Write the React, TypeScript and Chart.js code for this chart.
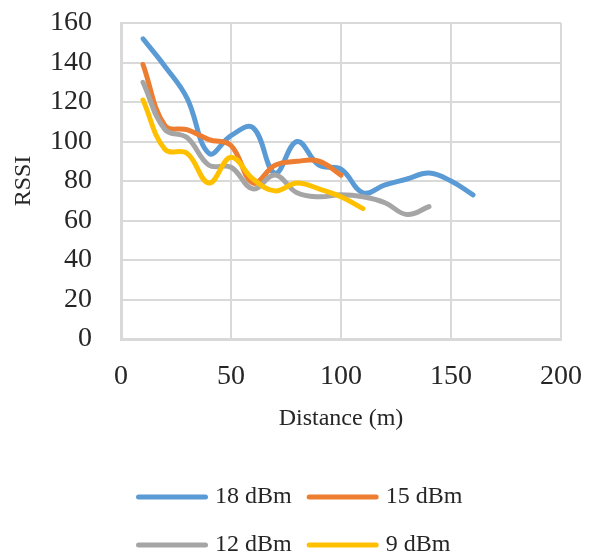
import { useEffect, useRef } from "react";
import { Chart, registerables } from "chart.js";

Chart.register(...registerables);

const distances18 = [10, 20, 30, 40, 50, 60, 70, 80, 90, 100, 110, 120, 130, 140, 150, 160];
const rssi18 = [152, 138, 122, 94, 103, 107, 84, 100, 88, 86, 74, 78, 81, 84, 80, 73];
const distances15 = [10, 20, 30, 40, 50, 60, 70, 80, 90, 100];
const rssi15 = [139, 108, 106, 101, 98, 79, 88, 90, 90, 83];
const distances12 = [10, 20, 30, 40, 50, 60, 70, 80, 90, 100, 110, 120, 130, 140];
const rssi12 = [130, 106, 102, 88, 87, 76, 83, 74, 72, 73, 72, 69, 63, 67];
const distances9 = [10, 20, 30, 40, 50, 60, 70, 80, 90, 100, 110];
const rssi9 = [121, 96, 94, 79, 92, 81, 75, 79, 76, 72, 66];

const seriesLabels = ["18 dBm", "15 dBm", "12 dBm", "9 dBm"];
const seriesColors = ["#5B9BD5", "#ED7D31", "#A5A5A5", "#FFC000"];
const seriesX = [distances18, distances15, distances12, distances9];
const seriesY = [rssi18, rssi15, rssi12, rssi9];

const xTitle = "Distance (m)";
const yTitle = "RSSI";

const FONT = '"Liberation Serif", "Times New Roman", serif';
const TEXT = "#262626";
const GRID = "#d9d9d9";

const legendLines = {
  id: "legendLines",
  afterDraw(chart: any) {
    const legend = chart.legend;
    if (!legend || !legend.legendItems) return;
    const ctx = chart.ctx;
    ctx.save();
    legend.legendItems.forEach((item: any, i: number) => {
      const hb = legend.legendHitBoxes[i];
      if (!hb) return;
      const y = hb.top + hb.height / 2;
      ctx.strokeStyle = seriesColors[item.datasetIndex];
      ctx.lineWidth = 5;
      ctx.lineCap = "round";
      ctx.beginPath();
      ctx.moveTo(hb.left + 5.5, y);
      ctx.lineTo(hb.left + 72.5, y);
      ctx.stroke();
    });
    ctx.restore();
  },
};

export default function App() {
  const ref = useRef<HTMLCanvasElement | null>(null);

  useEffect(() => {
    if (!ref.current) return;
    const datasets = seriesLabels.map((label, i) => ({
      label,
      data: seriesX[i].map((x, j) => ({ x, y: seriesY[i][j] })),
      borderColor: seriesColors[i],
      backgroundColor: seriesColors[i],
      borderWidth: 5,
      tension: 0.4,
      pointRadius: 0,
      fill: false,
      borderCapStyle: "round" as const,
      borderJoinStyle: "round" as const,
      order: seriesLabels.length - i,
    }));

    const chart = new Chart(ref.current, {
      type: "line",
      data: { datasets },
      plugins: [legendLines],
      options: {
        animation: false,
        responsive: false,
        devicePixelRatio: 1,
        layout: { padding: { top: 23, right: 31, left: 0, bottom: 0 } },
        plugins: {
          tooltip: { enabled: false },
          legend: {
            position: "bottom",
            fullSize: false,
            align: "start",
            labels: {
              boxWidth: 70,
              boxHeight: 36,
              padding: 12,
              color: TEXT,
              font: { family: FONT, size: 24 },
              generateLabels: () =>
                seriesLabels.map((text, i) => ({
                  text,
                  datasetIndex: i,
                  fillStyle: "rgba(0,0,0,0)",
                  strokeStyle: "rgba(0,0,0,0)",
                  lineWidth: 0,
                  hidden: false,
                  fontColor: TEXT,
                })),
            },
          },
        },
        scales: {
          x: {
            type: "linear",
            min: 0,
            max: 200,
            ticks: {
              stepSize: 50,
              padding: 3,
              color: TEXT,
              font: { family: FONT, size: 28 },
            },
            grid: {
              color: GRID,
              lineWidth: 2,
              drawTicks: true,
              tickLength: 18,
              tickColor: "rgba(0,0,0,0)",
            },
            border: { color: GRID, width: 3 },
            title: {
              display: true,
              text: xTitle,
              color: TEXT,
              font: { family: FONT, size: 24 },
              padding: { top: 0, bottom: 34 },
            },
            afterFit: (s: any) => {
              s.height = 128;
            },
          },
          y: {
            min: 0,
            max: 160,
            ticks: {
              stepSize: 20,
              padding: 3,
              color: TEXT,
              font: { family: FONT, size: 28 },
            },
            grid: {
              color: GRID,
              lineWidth: 2,
              drawTicks: true,
              tickLength: 26,
              tickColor: "rgba(0,0,0,0)",
            },
            border: { color: GRID, width: 3 },
            title: {
              display: true,
              text: yTitle,
              color: TEXT,
              font: { family: FONT, size: 24 },
              padding: { top: 9, bottom: 0 },
            },
            afterFit: (s: any) => {
              s.width = 121;
            },
          },
        },
      },
    });
    return () => chart.destroy();
  }, []);

  return (
    <div
      style={{
        position: "absolute",
        left: 0,
        top: 0,
        width: 592,
        height: 556,
        overflow: "hidden",
        background: "#fff",
      }}
    >
      <canvas
        ref={ref}
        width={592}
        height={573}
        style={{ display: "block", width: 592, height: 573 }}
      />
    </div>
  );
}
